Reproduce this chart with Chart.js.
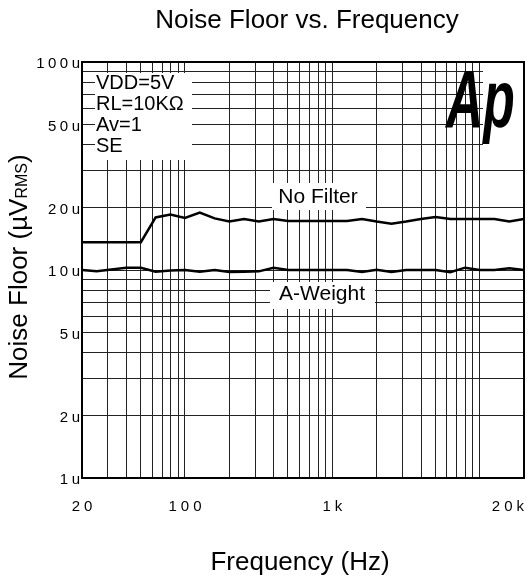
<!DOCTYPE html>
<html>
<head>
<meta charset="utf-8">
<script src="https://cdn.jsdelivr.net/npm/chart.js"></script>
<style>
  body { margin: 0; background: #fff; }
</style>
</head>
<body>
<canvas id="noise-graph" width="529" height="579"></canvas>
<script>
// sweep frequencies (Hz)
var freqs = [20, 25.2, 31.7, 39.9, 50.2, 63.2, 79.6, 100, 126, 159, 200, 252, 317, 399, 502, 632,
             796, 1000, 1260, 1590, 2000, 2520, 3170, 3990, 5020, 6320, 7960, 10000, 12600, 15900, 20000];
// noise floor, uV rms
var noFilter = [13.6, 13.6, 13.6, 13.6, 13.6, 17.9, 18.5, 17.8, 18.9, 17.7, 17.1, 17.6, 17.1, 17.6, 17.2, 17.2,
                17.2, 17.2, 17.2, 17.6, 17.1, 16.7, 17.1, 17.6, 18.0, 17.6, 17.6, 17.6, 17.6, 17.1, 17.6];
var aWeight = [10.0, 9.85, 10.05, 10.25, 10.25, 9.8, 9.95, 10.0, 9.8, 10.0, 9.78, 9.8, 9.85, 10.25, 10.0, 10.0,
               10.0, 10.0, 10.0, 9.78, 10.03, 9.78, 10.0, 10.0, 10.0, 9.75, 10.26, 10.0, 10.0, 10.19, 10.0];

var xGrid = [20, 30, 40, 50, 60, 70, 80, 90, 100, 200, 300, 400, 500, 600, 700, 800, 900,
             1000, 2000, 3000, 4000, 5000, 6000, 7000, 8000, 9000, 10000, 20000];
var yGrid = [1, 2, 3, 4, 5, 6, 7, 8, 9, 10, 20, 30, 40, 50, 60, 70, 80, 90, 100];

var xTickValues = [20, 100, 1000, 20000];
var xTickLabels = ['20', '100', '1k', '20k'];
var yTickValues = [100, 50, 20, 10, 5, 2, 1];
var yTickLabels = ['100u', '50u', '20u', '10u', '5u', '2u', '1u'];

var conditions = ['VDD=5V', 'RL=10K\u03A9', 'Av=1', 'SE'];

var FONT = '"Liberation Sans", Arial, sans-serif';

function toPoints(values) {
    return freqs.map(function(f, i) { return { x: f, y: values[i] }; });
}

function spacedText(ctx, text, x, y, align, spacing) {
    var chars = text.split('');
    var widths = chars.map(function(c) { return ctx.measureText(c).width; });
    var total = widths.reduce(function(a, b) { return a + b; }, 0) + spacing * (chars.length - 1);
    var start = x;
    if (align === 'center') start = x - total / 2;
    if (align === 'right') start = x - total;
    ctx.textAlign = 'left';
    chars.forEach(function(c, i) {
        ctx.fillText(c, start, y);
        start += widths[i] + spacing;
    });
}

var decorations = {
    id: 'decorations',
    afterDraw: function(chart) {
        var ctx = chart.ctx;
        var area = chart.chartArea;
        var xs = chart.scales.x;
        var ys = chart.scales.y;
        ctx.save();
        ctx.fillStyle = '#000';

        // title
        ctx.font = '26px ' + FONT;
        ctx.textAlign = 'center';
        ctx.textBaseline = 'alphabetic';
        ctx.fillText('Noise Floor vs. Frequency', 307, 28);
        ctx.fillText('Frequency (Hz)', 300, 570);

        // y axis title with small RMS
        ctx.save();
        ctx.translate(27, 267);
        ctx.rotate(-Math.PI / 2);
        ctx.font = '26px ' + FONT;
        var w1 = ctx.measureText('Noise Floor (\u00B5V').width;
        var w3 = ctx.measureText(')').width;
        ctx.font = '16px ' + FONT;
        var w2 = ctx.measureText('RMS').width;
        var sx = -(w1 + w2 + w3) / 2;
        ctx.textAlign = 'left';
        ctx.font = '26px ' + FONT;
        ctx.fillText('Noise Floor (\u00B5V', sx, 0);
        ctx.font = '16px ' + FONT;
        ctx.fillText('RMS', sx + w1, 0);
        ctx.font = '26px ' + FONT;
        ctx.fillText(')', sx + w1 + w2, 0);
        ctx.restore();

        // tick labels
        ctx.font = '15px ' + FONT;
        ctx.textBaseline = 'middle';
        xTickValues.forEach(function(v, i) {
            var px = xs.getPixelForValue(v);
            var last = i === xTickValues.length - 1;
            spacedText(ctx, xTickLabels[i], last ? area.right : px, 507, last ? 'right' : 'center', 4);
        });
        yTickValues.forEach(function(v, i) {
            spacedText(ctx, yTickLabels[i], 80, ys.getPixelForValue(v) + 2, 'right', 3.5);
        });

        // conditions box
        ctx.fillStyle = '#fff';
        ctx.fillRect(95, 73, 97, 87);
        ctx.fillStyle = '#000';
        ctx.font = '20px ' + FONT;
        ctx.textAlign = 'left';
        ctx.textBaseline = 'alphabetic';
        conditions.forEach(function(t, i) {
            ctx.fillText(t, 96, 89 + i * 21);
        });

        // curve labels
        ctx.font = '21px ' + FONT;
        ctx.fillStyle = '#fff';
        ctx.fillRect(272, 183, 94, 27);
        ctx.fillRect(270, 282, 105, 27);
        ctx.fillStyle = '#000';
        ctx.textAlign = 'center';
        ctx.fillText('No Filter', 318, 203);
        ctx.fillText('A-Weight', 322, 300);

        // Ap logo
        ctx.fillStyle = '#fff';
        ctx.fillRect(483, 63, 40, 82);
        ctx.fillStyle = '#000';
        ctx.save();
        ctx.translate(446, 127);
        ctx.scale(0.63, 1);
        ctx.font = 'italic bold 82px ' + FONT;
        ctx.textAlign = 'left';
        ctx.fillText('Ap', 0, 0);
        ctx.restore();

        // frame
        ctx.strokeStyle = '#000';
        ctx.lineWidth = 2;
        ctx.strokeRect(area.left, area.top, area.right - area.left, area.bottom - area.top);
        ctx.restore();
    }
};

var ctx = document.getElementById('noise-graph');

var data = {
    datasets: [{
        label: 'No Filter',
        data: toPoints(noFilter),
        borderColor: '#000',
        borderWidth: 2.5,
        pointRadius: 0,
        tension: 0,
        fill: false
    },
    {
        label: 'A-Weight',
        data: toPoints(aWeight),
        borderColor: '#000',
        borderWidth: 2.5,
        pointRadius: 0,
        tension: 0,
        fill: false
    }]
};

var noiseChart = new Chart(ctx, {
    type: 'line',
    data: data,
    plugins: [decorations],
    options: {
        responsive: false,
        animation: false,
        layout: { padding: { left: 82, right: 5, top: 62, bottom: 101 } },
        plugins: {
            legend: { display: false },
            tooltip: { enabled: false }
        },
        scales: {
            x: {
                type: 'logarithmic',
                min: 20,
                max: 20000,
                ticks: { display: false },
                grid: { color: '#222', lineWidth: 1, drawTicks: false },
                border: { display: false },
                afterBuildTicks: function(scale) {
                    scale.ticks = xGrid.map(function(v) { return { value: v }; });
                }
            },
            y: {
                type: 'logarithmic',
                min: 1,
                max: 100,
                ticks: { display: false },
                grid: { color: '#222', lineWidth: 1, drawTicks: false },
                border: { display: false },
                afterBuildTicks: function(scale) {
                    scale.ticks = yGrid.map(function(v) { return { value: v }; });
                }
            }
        }
    }
});
</script>
</body>
</html>
